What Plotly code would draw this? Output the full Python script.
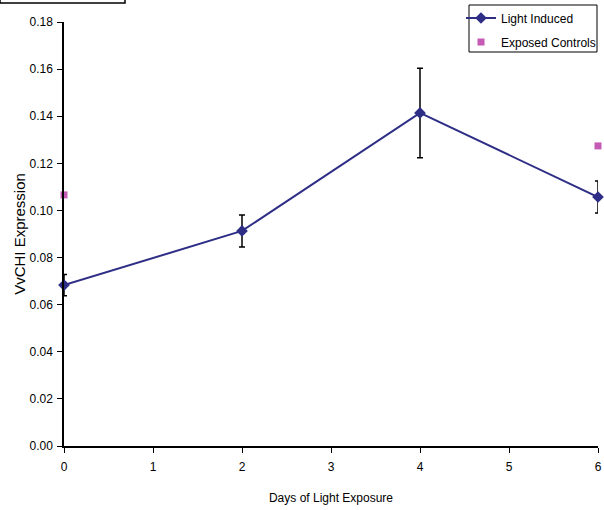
import plotly.graph_objects as go

days = [0, 2, 4, 6]
light_induced = [0.0683, 0.0913, 0.1414, 0.1057]
light_err = [0.0045, 0.0068, 0.019, 0.0068]
control_days = [0, 6]
exposed_controls = [0.1066, 0.1274]

L, R, T, B = 64, 6, 22, 64
W, H = 604, 510
PW, PH = W - L - R, H - T - B


def px(xp):
    return (xp - L) / PW


def py(yp):
    return (H - B - yp) / PH


fig = go.Figure()
fig.add_trace(go.Scatter(
    x=days, y=light_induced, name="Light Induced", mode="lines+markers",
    line=dict(color="#2E2E86", width=2),
    marker=dict(symbol="diamond", size=9, color="#2E2E86"),
    error_y=dict(type="data", array=light_err, visible=True, color="black", thickness=1.5, width=3),
    cliponaxis=False, legend="legend",
))
fig.add_trace(go.Scatter(
    x=control_days, y=exposed_controls, name="Exposed Controls", mode="markers",
    marker=dict(symbol="square", size=7, color="#C65BB5"),
    cliponaxis=False, legend="legend2",
))

leg_common = dict(xanchor="left", yanchor="middle", borderwidth=0,
                  bgcolor="rgba(0,0,0,0)", font=dict(size=12), itemwidth=30)

fig.update_layout(
    width=W, height=H,
    margin=dict(l=L, r=R, t=T, b=B, autoexpand=False),
    plot_bgcolor="white", paper_bgcolor="white",
    font=dict(family="Liberation Sans, Arial, sans-serif", size=12, color="black"),
    showlegend=True,
    legend=dict(x=px(461), y=py(18), **leg_common),
    legend2=dict(x=px(461), y=py(42), **leg_common),
    xaxis=dict(range=[0, 6], dtick=1, showline=True, linecolor="black", linewidth=1.5,
               ticks="outside", ticklen=5, tickcolor="black", showgrid=False, zeroline=False,
               ticklabelstandoff=4,
               title=dict(text="Days of Light Exposure", font=dict(size=12), standoff=20)),
    yaxis=dict(range=[0, 0.18], dtick=0.02, tickformat=".2f", showline=True, linecolor="black",
               linewidth=1.5, ticks="outside", ticklen=5, tickcolor="black", showgrid=False,
               zeroline=False, ticklabelstandoff=2,
               title=dict(text="VvCHI Expression", font=dict(size=15), standoff=0)),
    shapes=[
        dict(type="rect", xref="paper", yref="paper", x0=px(0), x1=px(125),
             y0=py(3), y1=py(-20), line=dict(color="black", width=1.5)),
        dict(type="rect", xref="paper", yref="paper", x0=px(469), x1=px(597),
             y0=py(52), y1=py(5), line=dict(color="black", width=1)),
    ],
)

fig.write_html("out.html", config={"displayModeBar": False},
               post_script="document.body.style.margin='0px';")
